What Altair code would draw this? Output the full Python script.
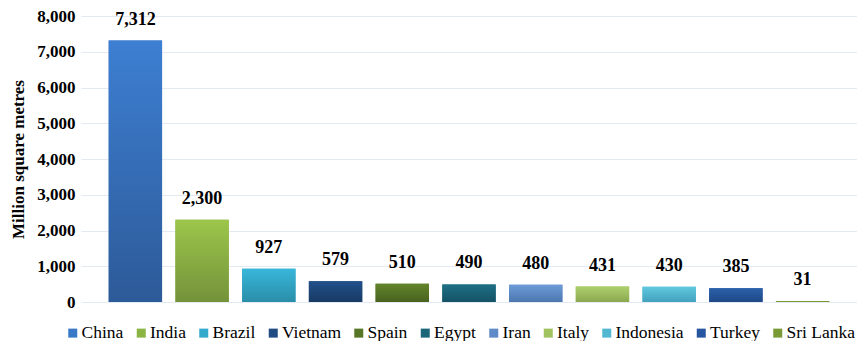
import altair as alt
import pandas as pd

countries = ["China", "India", "Brazil", "Vietnam", "Spain", "Egypt", "Iran",
             "Italy", "Indonesia", "Turkey", "Sri Lanka"]
values = [7312, 2300, 927, 579, 510, 490, 480, 431, 430, 385, 31]
top_colors = ["#3d7fd2", "#9cc64b", "#38b6da", "#21508a", "#62842a", "#1e7085",
              "#6c9cd8", "#add06c", "#60c8e0", "#2b60aa", "#86a83c"]
bottom_colors = ["#2d5a98", "#74923a", "#2a8ea8", "#183a64", "#48621f", "#155266",
                 "#4d76ae", "#8ba850", "#43a2bd", "#1e4886", "#6f8c30"]
mid_colors = ["#3a78c8", "#8ab443", "#33a9cc", "#1f4b82", "#577726", "#1b6679",
              "#5f8bc8", "#a0c25f", "#52b8d2", "#2656a0", "#7a9a35"]

df = pd.DataFrame({"Country": countries, "Value": values})

FONT = "Liberation Serif"

x = alt.X("Country:N", sort=countries,
          scale=alt.Scale(paddingInner=0.2, paddingOuter=0.415),
          axis=None)
y = alt.Y("Value:Q", scale=alt.Scale(domain=[0, 8000], nice=False),
          axis=alt.Axis(title="Million square metres", values=list(range(0, 8001, 1000)),
                        format=",.0f", labelFont=FONT, labelFontSize=17, labelFontWeight="bold",
                        labelColor="#000000", labelPadding=6,
                        titleFont=FONT, titleFontSize=17, titleFontWeight="bold",
                        titleColor="#000000", titlePadding=9,
                        domain=False, ticks=False, grid=True,
                        gridColor="#e4eaf2", gridWidth=1.2))

base = alt.Chart(df).mark_bar().encode(
    x=x, y=y,
    color=alt.Color("Country:N", sort=countries,
                    scale=alt.Scale(domain=countries, range=mid_colors),
                    legend=alt.Legend(title=None, orient="none", direction="horizontal",
                                      columns=11, legendX=-17, legendY=308,
                                      symbolType="square", symbolSize=81,
                                      symbolStrokeWidth=0, labelFont=FONT,
                                      labelFontSize=17.5, labelColor="#000000",
                                      columnPadding=8.5, labelOffset=0)),
)

layers = [base]
for c, t, b in zip(countries, top_colors, bottom_colors):
    grad = alt.Gradient(gradient="linear", x1=0, y1=0, x2=0, y2=1,
                        stops=[alt.GradientStop(color=t, offset=0),
                               alt.GradientStop(color=b, offset=1)])
    layers.append(
        alt.Chart(df).transform_filter(alt.datum.Country == c)
        .mark_bar(fill=grad).encode(x=x, y=y)
    )

labels = alt.Chart(df).mark_text(baseline="bottom", dy=-12, font=FONT, fontSize=18,
                                 fontWeight="bold", color="#000000").encode(
    x=x, y=y, text=alt.Text("Value:Q", format=","))
layers.append(labels)

chart = alt.layer(*layers).properties(
    width=776, height=286,
    autosize=alt.AutoSizeParams(type="none"),
    padding={"left": 73, "top": 8, "right": 0, "bottom": 39},
).configure(font=FONT).configure_view(stroke=None)

chart.save("out.html", embed_options={"renderer": "svg", "actions": False})
